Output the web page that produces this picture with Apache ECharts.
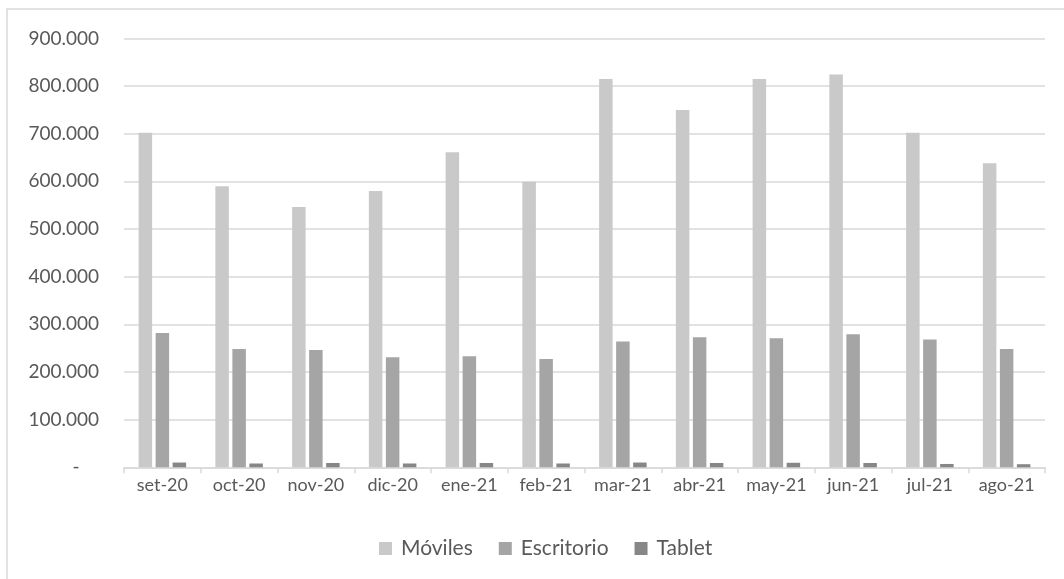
<!DOCTYPE html>
<html>
<head>
<meta charset="utf-8">
<script src="https://cdn.jsdelivr.net/npm/echarts@6/dist/echarts.min.js"></script>
<style>html,body{margin:0;padding:0;background:#fff;}#c{width:1064px;height:579px;}</style>
</head>
<body>
<div id="c"></div>
<script>
const categories = ['set-20','oct-20','nov-20','dic-20','ene-21','feb-21','mar-21','abr-21','may-21','jun-21','jul-21','ago-21'];
const moviles = [702000,590000,546000,580000,661000,599000,815000,750000,815000,824000,702000,638000];
const escritorio = [282000,248000,246000,231000,233000,227000,264000,273000,271000,279000,268000,248000];
const tablet = [10000,8000,9000,8000,9000,8000,10000,9000,9500,9000,7000,6500];
const seriesNames = ['Móviles','Escritorio','Tablet'];
const yMax = 900000, yStep = 100000;

const FONT = 'Lato';
const chart = echarts.init(document.getElementById('c'), null, {renderer:'canvas'});
function fmt(v){
  if (v === 0) return '-    ';
  return String(v).replace(/\B(?=(\d{3})+(?!\d))/g, '.');
}
const colors = ['#C9C9C9','#A5A5A5','#878787'];
const data = [moviles, escritorio, tablet];
chart.setOption({
  animation:false,
  backgroundColor:'#fff',
  textStyle:{fontFamily:FONT},
  graphic:[{type:'rect',shape:{x:7,y:9,width:1100,height:620},style:{fill:'none',stroke:'#d9d9d9',lineWidth:1.5},silent:true}],
  grid:{left:124,right:19,top:38.4,bottom:111.7,containLabel:false},
  legend:{
    top:533, left:374,
    itemWidth:13,itemHeight:13,itemGap:26,
    icon:'rect',
    textStyle:{color:'#595959',fontSize:21,fontFamily:FONT,padding:[0,0,0,4]},
    data:seriesNames
  },
  xAxis:{
    type:'category',data:categories,
    axisLine:{lineStyle:{color:'#d9d9d9',width:1.5}},
    axisTick:{show:true,length:6,interval:0,lineStyle:{color:'#d9d9d9',width:1.5}},
    axisLabel:{color:'#595959',fontSize:18,fontFamily:FONT,margin:9,interval:0}
  },
  yAxis:{
    type:'value',min:0,max:yMax,interval:yStep,
    axisLine:{show:false},axisTick:{show:false},
    splitLine:{lineStyle:{color:'#d9d9d9',width:1.5}},
    axisLabel:{color:'#595959',fontSize:19,fontFamily:FONT,margin:25,formatter:fmt}
  },
  series: seriesNames.map((n,i)=>({
    name:n,type:'bar',data:data[i],barWidth:13.5,barGap:'26%',
    itemStyle:{color:colors[i]}
  }))
});
</script>
</body>
</html>
